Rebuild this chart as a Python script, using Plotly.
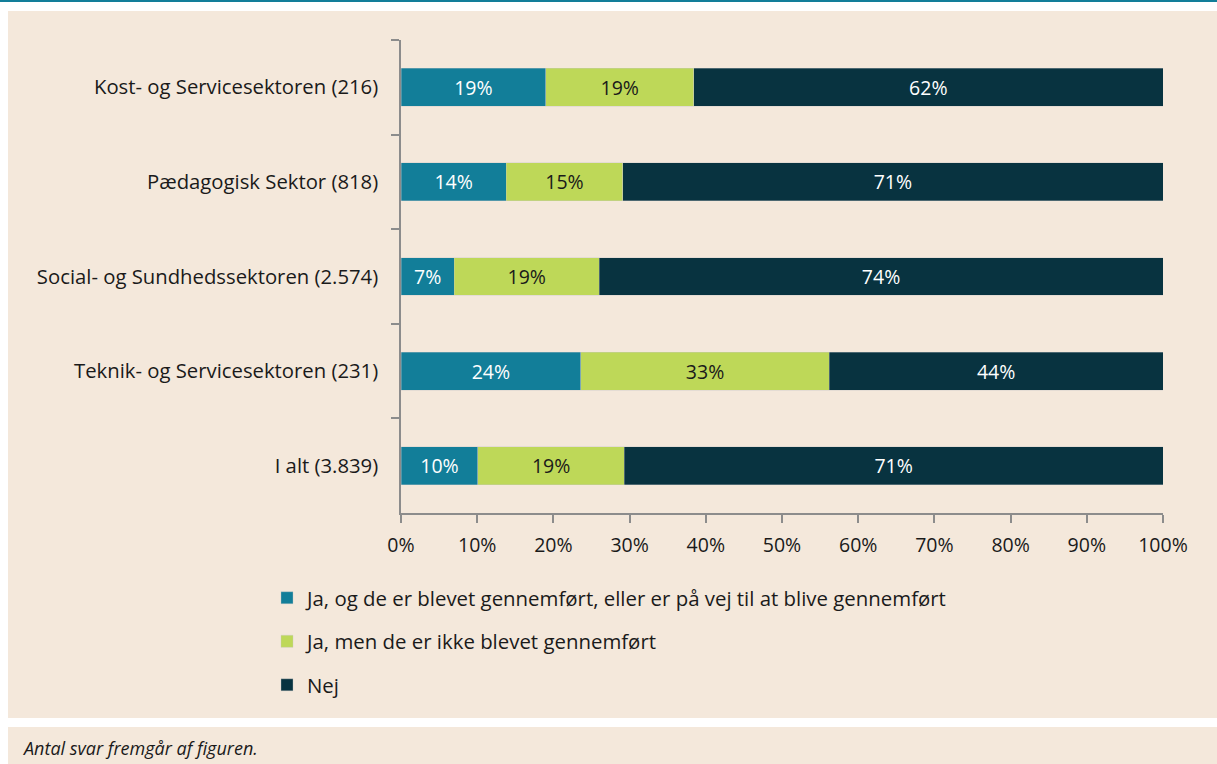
import plotly.graph_objects as go

categories = ["Kost- og Servicesektoren (216)", "Pædagogisk Sektor (818)",
              "Social- og Sundhedssektoren (2.574)", "Teknik- og Servicesektoren (231)",
              "I alt (3.839)"]
series_names = ["Ja, og de er blevet gennemført, eller er på vej til at blive gennemført",
                "Ja, men de er ikke blevet gennemført", "Nej"]
ja_gennemfoert = [19.0, 13.8, 7.0, 23.6, 10.1]
ja_ikke = [19.4, 15.3, 19.0, 32.6, 19.2]
nej = [61.6, 70.9, 74.0, 43.8, 70.7]
x_ticks = [0, 10, 20, 30, 40, 50, 60, 70, 80, 90, 100]
x_tick_labels = [f"{v}%" for v in x_ticks]
note = "Antal svar fremgår af figuren."

W, H = 1217, 764
L, R, T, B = 401, 54, 40, 251
FONT = "Open Sans"
FS = 19.5
FS_Y = 20.3
FS_LEG = 20.4
colors = ["#127E99", "#BED858", "#083340"]
text_colors = ["white", "#1a1a1a", "white"]

def px_x(p):
    return (p - L) / (W - L - R)

def px_y(p):
    return (H - B - p) / (H - T - B)

fig = go.Figure()
for i, (name, vals) in enumerate(zip(series_names, [ja_gennemfoert, ja_ikke, nej])):
    fig.add_trace(go.Bar(
        y=categories, x=vals, name=name, orientation="h",
        marker=dict(color=colors[i], line=dict(color="rgba(200,200,200,0.6)", width=0.6)),
        text=[f"{v:.0f}%" for v in vals], textposition="inside",
        insidetextanchor="middle", textangle=0,
        textfont=dict(family=FONT, size=FS, color=text_colors[i]),
        legendgroup=f"g{i}", hoverinfo="skip",
    ))

shapes = [
    dict(type="rect", xref="paper", yref="paper", x0=px_x(0), x1=px_x(W), y0=px_y(0), y1=px_y(2),
         fillcolor="#127E99", line=dict(width=0), layer="below"),
    dict(type="rect", xref="paper", yref="paper", x0=px_x(8), x1=px_x(W), y0=px_y(11), y1=px_y(718),
         fillcolor="#F4E8DB", line=dict(width=0), layer="below"),
    dict(type="rect", xref="paper", yref="paper", x0=px_x(8), x1=px_x(W), y0=px_y(727), y1=px_y(H),
         fillcolor="#F4E8DB", line=dict(width=0), layer="below"),
]

fig.update_layout(
    width=W, height=H, autosize=False,
    margin=dict(l=L, r=R, t=T, b=B, pad=0),
    paper_bgcolor="white", plot_bgcolor="rgba(0,0,0,0)",
    barmode="stack", bargap=0.6,
    font=dict(family=FONT, size=FS, color="#1a1a1a"),
    shapes=shapes,
    showlegend=True,
    legend=dict(x=px_x(267), y=px_y(578), xanchor="left", yanchor="top",
                orientation="v", traceorder="grouped", tracegroupgap=14,
                font=dict(family=FONT, size=FS_LEG, color="#1a1a1a"),
                bgcolor="rgba(0,0,0,0)", itemwidth=30),
    annotations=[dict(text=note, xref="paper", yref="paper", x=px_x(20), y=px_y(748),
                      xanchor="left", yanchor="middle", showarrow=False,
                      font=dict(family=FONT, size=18, color="#1a1a1a", style="italic"))],
)
fig.update_xaxes(range=[0, 100], tickvals=x_ticks, ticktext=x_tick_labels,
                 showgrid=False, zeroline=False, showline=True, linecolor="#8c8c8c", linewidth=1.5,
                 ticks="outside", ticklen=8, tickcolor="#8c8c8c", tickwidth=1.5,
                 ticklabelstandoff=6,
                 tickfont=dict(family=FONT, size=FS, color="#1a1a1a"), fixedrange=True)
fig.update_yaxes(categoryorder="array", categoryarray=categories, autorange="reversed",
                 showgrid=False, zeroline=False, showline=True, linecolor="#8c8c8c", linewidth=1.5,
                 ticks="outside", ticklen=8, tickcolor="#8c8c8c", tickwidth=1.5, tickson="boundaries",
                 ticklabelstandoff=17,
                 tickfont=dict(family=FONT, size=FS_Y, color="#1a1a1a"), fixedrange=True)

fig.write_html("out.html", config={"displayModeBar": False},
               post_script="document.body.style.margin='0';document.body.style.overflow='hidden';")
